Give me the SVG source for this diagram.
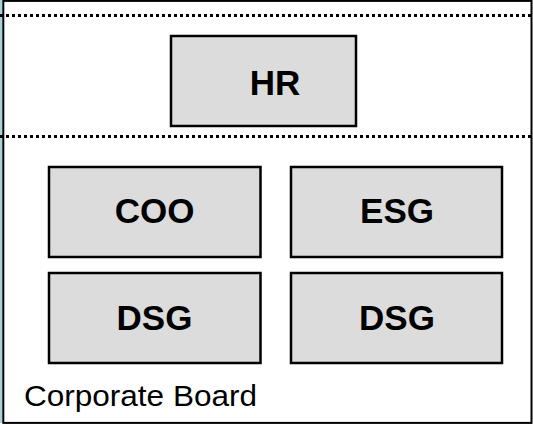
<svg xmlns="http://www.w3.org/2000/svg" width="533" height="425" viewBox="0 0 533 425">
<style>
.box{fill:#dcdcdc;stroke:#000;stroke-width:2.5}
.lbl{font-family:"Liberation Sans",Arial,sans-serif;font-weight:bold;font-size:35px;fill:#000;text-anchor:middle}
.dot{stroke:#000;stroke-width:3;stroke-dasharray:3 3;fill:none}
</style>
<rect x="0" y="0" width="533" height="425" fill="#fff"/>
<rect x="0" y="0" width="2.4" height="423" fill="#a6d2d8"/>
<g id="frame">
<rect x="3.3" y="0.9" width="528.2" height="422" fill="none" stroke="#000" stroke-width="2"/>
</g>
<g id="connectors">
<line class="dot" x1="0" y1="15.5" x2="533" y2="15.5"/>
<line class="dot" x1="0" y1="136.5" x2="533" y2="136.5"/>
</g>
<g id="hr"><rect class="box" x="171" y="36" width="185" height="90"/><text class="lbl" x="275" y="95">HR</text></g>
<g id="coo"><rect class="box" x="49" y="167" width="211.5" height="90"/><text class="lbl" x="154.5" y="223">COO</text></g>
<g id="esg"><rect class="box" x="291" y="167" width="211" height="90"/><text class="lbl" x="397" y="223">ESG</text></g>
<g id="dsg1"><rect class="box" x="49" y="273" width="211.5" height="90"/><text class="lbl" x="154.5" y="330">DSG</text></g>
<g id="dsg2"><rect class="box" x="291" y="273" width="211" height="90"/><text class="lbl" x="397" y="330">DSG</text></g>
<text x="24" y="406" font-family="&quot;Liberation Sans&quot;,Arial,sans-serif" font-size="30" textLength="233" lengthAdjust="spacingAndGlyphs" fill="#000">Corporate Board</text>
</svg>
